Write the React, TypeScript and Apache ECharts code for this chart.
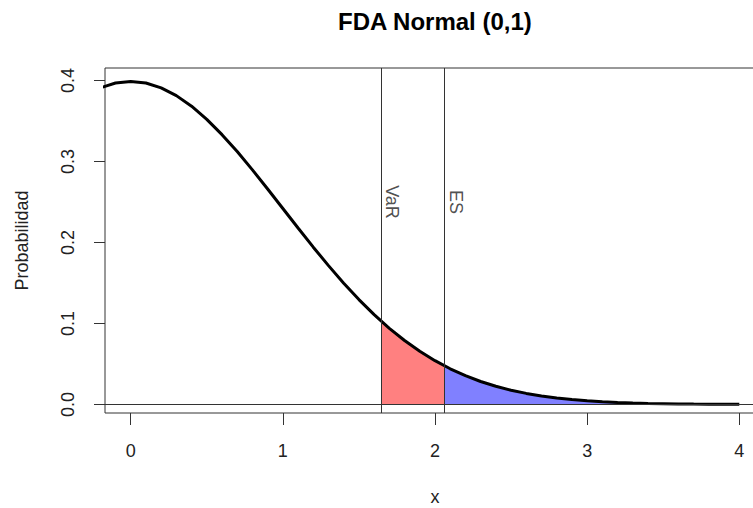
import React, { useEffect, useRef } from "react";
import * as echarts from "echarts";

// Curve points (x, density)
const xs = [-0.2, -0.1, 0, 0.1, 0.2, 0.3, 0.4, 0.5, 0.6, 0.7, 0.8, 0.9, 1.0, 1.1, 1.2, 1.3, 1.4, 1.5, 1.6, 1.7, 1.8, 1.9, 2.0, 2.1, 2.2, 2.3, 2.4, 2.5, 2.6, 2.7, 2.8, 2.9, 3.0, 3.1, 3.2, 3.3, 3.4, 3.5, 3.6, 3.7, 3.8, 3.9, 4.0];
const density = [0.391, 0.397, 0.3989, 0.397, 0.391, 0.3814, 0.3683, 0.3521, 0.3332, 0.3123, 0.2897, 0.2661, 0.242, 0.2179, 0.1942, 0.1714, 0.1497, 0.1295, 0.1109, 0.094, 0.079, 0.0656, 0.054, 0.044, 0.0355, 0.0283, 0.0224, 0.0175, 0.0136, 0.0104, 0.0079, 0.006, 0.0044, 0.0033, 0.0024, 0.0017, 0.0012, 0.0009, 0.0006, 0.0004, 0.0003, 0.0002, 0.0001];

const markerNames = ["VaR", "ES"];
const markerX = [1.645, 2.063];
const markerDensity = [0.1031, 0.0475];
const markerLabelY = [0.25, 0.25];

const xTicks = [0, 1, 2, 3, 4];
const yTicks = [0, 0.1, 0.2, 0.3, 0.4];
const xRange = [-0.169, 4.169];
const yRange = [-0.0106, 0.4155];

const FONT = "'Liberation Sans', Arial, sans-serif";

export default function App() {
  const ref = useRef<HTMLDivElement>(null);
  useEffect(() => {
    if (!ref.current) return;
    const chart = echarts.init(ref.current, null, { renderer: "svg" });
    const curve = xs.map((x, i) => [x, density[i]]);
    const red: number[][] = [[markerX[0], markerDensity[0]]];
    xs.forEach((x, i) => {
      if (x > markerX[0] && x < markerX[1]) red.push([x, density[i]]);
    });
    red.push([markerX[1], markerDensity[1]]);
    const blue: number[][] = [[markerX[1], markerDensity[1]]];
    xs.forEach((x, i) => {
      if (x > markerX[1]) blue.push([x, density[i]]);
    });
    const lineCol = "#333";
    chart.setOption({
      animation: false,
      backgroundColor: "#fff",
      title: {
        text: "FDA Normal (0,1)",
        left: 338,
        top: 9,
        padding: 0,
        textStyle: { fontFamily: FONT, fontSize: 24, fontWeight: "bold", color: "#000" },
      },
      grid: {
        left: 105,
        top: 68,
        right: 0,
        bottom: 95,
        show: true,
        borderColor: lineCol,
        borderWidth: 1,
        backgroundColor: "transparent",
        containLabel: false,
        outerBoundsMode: "none",
      },
      xAxis: {
        type: "value",
        min: xRange[0],
        max: xRange[1],
        name: "x",
        nameLocation: "middle",
        nameGap: 75,
        nameTextStyle: { fontFamily: FONT, fontSize: 18, color: "#222" },
        axisLine: { show: false, onZero: false },
        splitLine: { show: false },
        axisTick: { show: true, inside: false, length: 12, customValues: xTicks, lineStyle: { color: lineCol, width: 1 } },
        axisLabel: { show: true, customValues: xTicks, margin: 29, fontFamily: FONT, fontSize: 18, color: "#222", formatter: (v: number) => String(v) },
      },
      yAxis: {
        type: "value",
        min: yRange[0],
        max: yRange[1],
        name: "Probabilidad",
        nameLocation: "middle",
        nameRotate: 90,
        nameGap: 74,
        nameTextStyle: { fontFamily: FONT, fontSize: 18, color: "#222" },
        axisLine: { show: false, onZero: false },
        splitLine: { show: false },
        axisTick: { show: true, inside: false, length: 11, customValues: yTicks, lineStyle: { color: lineCol, width: 1 } },
        axisLabel: { show: true, customValues: yTicks, rotate: 90, margin: 28, fontFamily: FONT, fontSize: 18, color: "#222", formatter: (v: number) => v.toFixed(1) },
      },
      series: [
        {
          type: "line",
          data: red,
          symbol: "none",
          lineStyle: { width: 0 },
          areaStyle: { color: "#FF8080", opacity: 1 },
          z: 1,
        },
        {
          type: "line",
          data: blue,
          symbol: "none",
          lineStyle: { width: 0 },
          areaStyle: { color: "#8080FF", opacity: 1 },
          z: 1,
        },
        {
          type: "line",
          data: curve,
          symbol: "none",
          smooth: false,
          lineStyle: { color: "#000", width: 3 },
          z: 3,
          markLine: {
            silent: true,
            symbol: "none",
            label: { show: false },
            lineStyle: { color: lineCol, width: 1, type: "solid" },
            data: [
              { xAxis: markerX[0] },
              { xAxis: markerX[1] },
              { yAxis: 0 },
            ],
          },
        },
        {
          type: "scatter",
          symbolSize: 0,
          z: 4,
          data: markerNames.map((n, i) => ({ name: n, value: [markerX[i], markerLabelY[i]] })),
          label: {
            show: true,
            formatter: (p: any) => p.name,
            position: "inside",
            rotate: -90,
            offset: [0, -11],
            fontFamily: FONT,
            fontSize: 18,
            color: "#222",
          },
        },
      ],
    });
    return () => chart.dispose();
  }, []);
  return (
    <div style={{ width: 753, height: 508, position: "absolute", left: 0, top: 0, overflow: "hidden" }}>
      <div ref={ref} style={{ width: 765, height: 508 }} />
    </div>
  );
}
